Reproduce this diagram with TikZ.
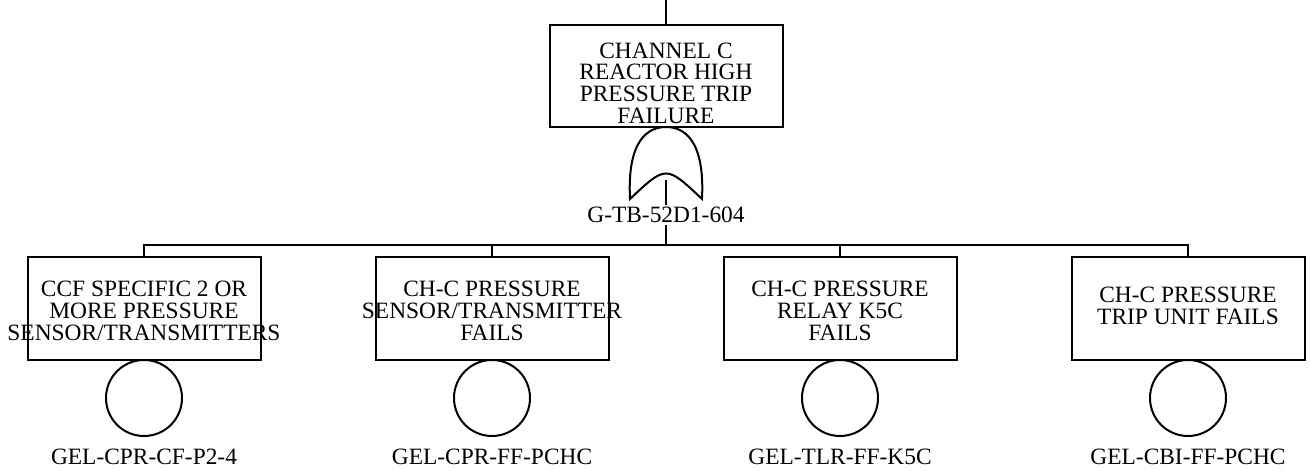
\documentclass[tikz,border=0pt]{standalone}
\usepackage{fontspec}
\setmainfont{Liberation Serif}
\begin{document}
\begin{tikzpicture}[x=1pt,y=-1pt,
  line width=2pt,
  box/.style={draw=black, line width=2pt, minimum width=233pt, minimum height=103pt, inner sep=0pt},
  txt/.style={align=center, inner sep=0pt, font=\fontsize{23.4}{21.7}\selectfont},
  evt/.style={draw=black, line width=2pt, circle, minimum size=76pt, inner sep=0pt},
  lab/.style={inner sep=1pt, font=\fontsize{23.4}{22}\selectfont}]
\useasboundingbox (0,0) rectangle (1310,471);
% top event
\coordinate (in) at (666,0);
\node[box, minimum height=102pt] (top) at (666,76) {};
\node[txt] (toptxt) at (666,83) {CHANNEL C\\REACTOR HIGH\\PRESSURE TRIP\\FAILURE};
\draw (in) -- (top.north);
% OR gate
\coordinate (gbot) at (666,180);
\coordinate (bus) at (666,245);
\node[lab] (glab) at (666,215) {G-TB-52D1-604};
\draw (gbot) -- (glab.north);
\draw (glab.south) -- (bus);
\draw[fill=white] (630,199) .. controls (627,140) and (648,127) .. (666,127)
  .. controls (684,127) and (705,140) .. (702,199)
  .. controls (666,165) .. (630,199) -- cycle;
% basic event boxes
\node[box] (b1) at (144,308.5) {};
\node[box] (b2) at (492,308.5) {};
\node[box] (b3) at (840,308.5) {};
\node[box] (b4) at (1188,308.5) {};
\node[txt] (t1) at (144,311) {CCF SPECIFIC 2 OR\\MORE PRESSURE\\SENSOR/TRANSMITTERS};
\node[txt] (t2) at (492,311) {CH-C PRESSURE\\SENSOR/TRANSMITTER\\FAILS};
\node[txt] (t3) at (840,311) {CH-C PRESSURE\\RELAY K5C\\FAILS};
\node[txt] (t4) at (1188,306) {CH-C PRESSURE\\TRIP UNIT FAILS};
\draw (b1.north) |- (bus) -| (b4.north);
\draw (bus) -| (b2.north);
\draw (bus) -| (b3.north);
% circles
\node[evt] (c1) at (144,398) {};
\node[evt] (c2) at (492,398) {};
\node[evt] (c3) at (840,398) {};
\node[evt] (c4) at (1188,398) {};
\node[lab] (l1) at (144,457) {GEL-CPR-CF-P2-4};
\node[lab] (l2) at (492,457) {GEL-CPR-FF-PCHC};
\node[lab] (l3) at (840,457) {GEL-TLR-FF-K5C};
\node[lab] (l4) at (1188,457) {GEL-CBI-FF-PCHC};
\end{tikzpicture}
\end{document}
